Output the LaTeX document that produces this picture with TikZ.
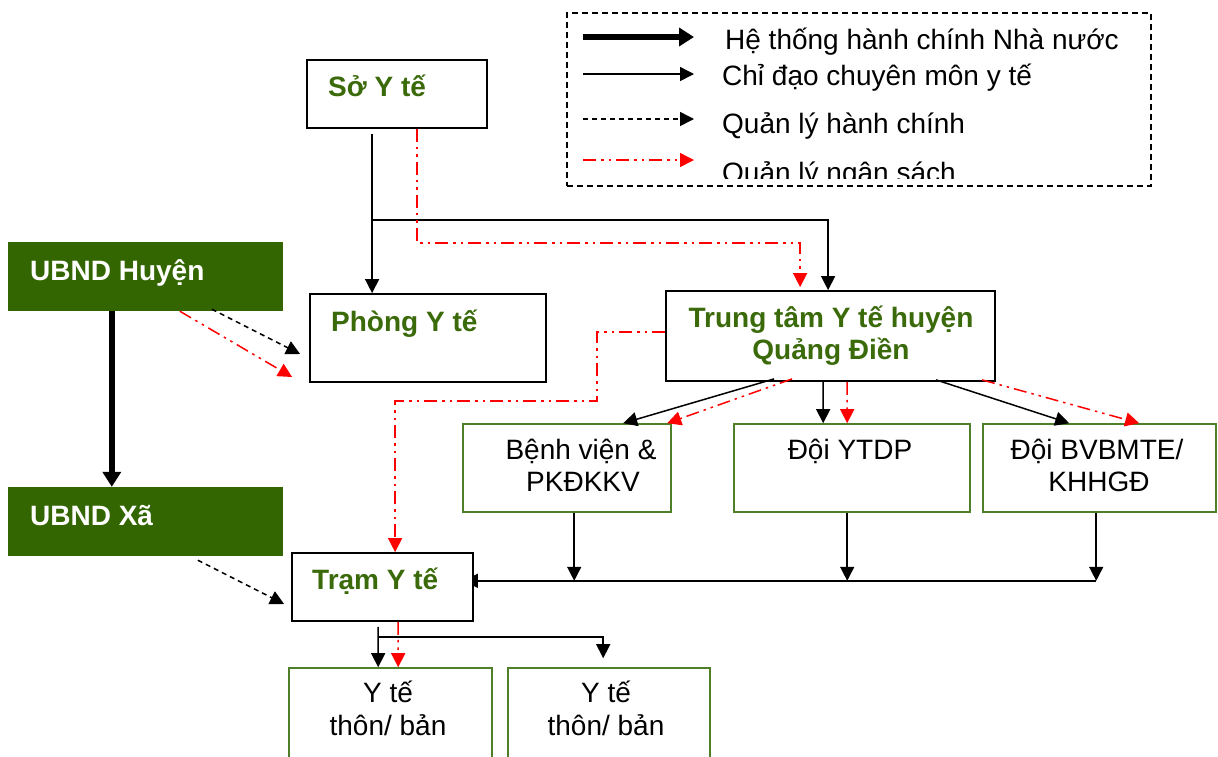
\documentclass[tikz,border=0pt]{standalone}
\usepackage{fontspec}
\setmainfont{Liberation Sans}
\usetikzlibrary{arrows.meta,calc,fit,backgrounds}
\definecolor{dgreen}{HTML}{336600}
\definecolor{tgreen}{HTML}{3A6A0A}
\definecolor{bgreen}{HTML}{4F7F28}
\tikzset{
 obox/.style={draw=black,line width=1.8pt,inner sep=0pt,fill=white},
 gbox/.style={draw=bgreen,line width=1.6pt,inner sep=0pt},
 fbox/.style={fill=dgreen,draw=none,inner sep=0pt},
 btxt/.style={font=\fontsize{28}{32}\selectfont\bfseries,text=tgreen,anchor=base west,inner sep=0pt},
 bctxt/.style={font=\fontsize{28}{32}\selectfont\bfseries,text=tgreen,anchor=base,inner sep=0pt},
 wtxt/.style={font=\fontsize{28}{32}\selectfont\bfseries,text=white,anchor=base west,inner sep=0pt},
 ntxt/.style={font=\fontsize{28}{32}\selectfont,anchor=base,inner sep=0pt},
 ltxt/.style={font=\fontsize{28}{32}\selectfont,anchor=base west,inner sep=0pt},
 con/.style={line width=1.5pt,-{Triangle[length=14pt,width=14pt]}},
 hcon/.style={line width=6pt,-{Triangle[length=15pt,width=18pt]}},
 dcon/.style={con,dash pattern=on 5pt off 4pt},
 rcon/.style={con,red,dash pattern=on 13pt off 5pt on 2.5pt off 5pt on 2.5pt off 5pt},
}
\begin{document}
\begin{tikzpicture}[x=1pt,y=-1pt]
\useasboundingbox (0,0) rectangle (1218,756);
% legend
\node[draw,line width=1.5pt,dash pattern=on 6pt off 4pt,inner sep=0pt,fit={(567,13) (1151,186)}] (leg) {};
\coordinate (la1) at (583,37); \coordinate (lb1) at (694,37);
\coordinate (la2) at (583,74); \coordinate (lb2) at (694,74);
\coordinate (la3) at (583,119); \coordinate (lb3) at (694,119);
\coordinate (la4) at (583,160); \coordinate (lb4) at (694,160);
\draw[hcon] (la1) -- (lb1);
\draw[con] (la2) -- (lb2);
\draw[dcon] (la3) -- (lb3);
\draw[rcon] (la4) -- (lb4);
\node[ltxt] (l1) at (725,49) {Hệ thống hành chính Nhà nước};
\node[ltxt] (l2) at (722,85) {Chỉ đạo chuyên môn y tế};
\node[ltxt] (l3) at (722,133) {Quản lý hành chính};
\begin{scope}
\clip (567,13) rectangle (1151,178);
\node[ltxt] (l4) at (722,182) {Quản lý ngân sách};
\end{scope}
% boxes
\node[obox,fit={(307,60) (487,128)}] (so) {};
\node[btxt] (sot) at (328,96) {Sở Y tế};
\node[fbox,fit={(8,242) (283,311)}] (ubh) {};
\node[wtxt] (ubht) at (30,280) {UBND Huyện};
\node[obox,fit={(310,294) (546,382)}] (phong) {};
\node[btxt] (phongt) at (331,331) {Phòng Y tế};
\node[obox,fit={(666,291) (995,381)}] (tt) {};
\node[bctxt] (tt1) at (831,327) {Trung tâm Y tế huyện};
\node[bctxt] (tt2) at (831,359) {Quảng Điền};
\node[gbox,fit={(463,424) (671,512)}] (bv) {};
\node[ntxt] (bv1) at (581,459) {Bệnh viện \&};
\node[ntxt] (bv2) at (583,491) {PKĐKKV};
\node[gbox,fit={(734,424) (970,512)}] (yt) {};
\node[ntxt] (ytt) at (850,459) {Đội YTDP};
\node[gbox,fit={(983,424) (1216,512)}] (bb) {};
\node[ntxt] (bb1) at (1097,459) {Đội BVBMTE/};
\node[ntxt] (bb2) at (1099,491) {KHHGĐ};
\node[fbox,fit={(8,487) (283,556)}] (ubx) {};
\node[wtxt] (ubxt) at (30,525) {UBND Xã};
\node[obox,fit={(292,553) (473,621)}] (tram) {};
\node[btxt] (tramt) at (312,589) {Trạm Y tế};
\node[gbox,fit={(289,668) (492,775)}] (yb1) {};
\node[ntxt] (yb1a) at (388,702) {Y tế};
\node[ntxt] (yb1b) at (388,735) {thôn/ bản};
\node[gbox,fit={(508,668) (710,775)}] (yb2) {};
\node[ntxt] (yb2a) at (606,702) {Y tế};
\node[ntxt] (yb2b) at (606,735) {thôn/ bản};
% So Y te connectors
\draw[con] ($(so.south west)+(66,5)$) -- ($(phong.north west)+(63,0)$);
\draw[con] ($(so.south west)+(66,91)$) -| ($(tt.north west)+(163,0)$);
\draw[rcon,shorten >=3pt] ($(so.south west)+(111,0)$) -- ++(0,114) -| ($(tt.north west)+(135,0)$);
% UBND Huyen
\draw[hcon] ($(ubh.south west)+(104,0)$) -- ($(ubx.north west)+(104,0)$);
\draw[dcon] ($(ubh.south west)+(204,-2)$) -- ($(phong.west)+(-9,16)$);
\draw[rcon] ($(ubh.south west)+(172,0)$) -- ($(phong.west)+(-17,39)$);
% Trung tam connectors
\draw[rcon] ($(tt.west)+(0,-4)$) -- ++(-68,0) -- ++(0,69) -| ($(tram.north west)+(104,0)$);
\draw[con] ($(tt.south west)+(109,-3)$) -- ($(bv.north west)+(161,0)$);
\draw[rcon] ($(tt.south west)+(127,-3)$) -- ($(bv.north west)+(205,0)$);
\draw[con] ($(tt.south west)+(158,0)$) -- ($(yt.north west)+(90,0)$);
\draw[rcon] ($(tt.south west)+(182,0)$) -- ($(yt.north west)+(114,0)$);
\draw[con] ($(tt.south west)+(271,-2)$) -- ($(bb.north west)+(87,0)$);
\draw[rcon] ($(tt.south west)+(317,-2)$) -- ($(bb.north west)+(157,0)$);
% children to Tram
\coordinate (hb) at ($(bb.south west)+(114,68)$);
\draw[con] ($(bv.south west)+(112,0)$) -- ($(bv.south west)+(112,68)$);
\draw[con] ($(yt.south west)+(114,0)$) -- ($(yt.south west)+(114,68)$);
\draw[con] ($(bb.south west)+(114,0)$) -- (hb);
\begin{scope}[on background layer]
\draw[con] (hb) -- ($(tram.east |- hb)+(-10,0)$);
\end{scope}
% UBND Xa
\draw[dcon] ($(ubx.south west)+(190,4)$) -- ($(tram.west)+(-7,17)$);
% Tram to Y te thon
\draw[con] ($(tram.south west)+(87,5)$) -- ($(yb1.north west)+(90,0)$);
\draw[con] ($(tram.south west)+(87,15)$) -| ($(yb2.north west)+(96,-9)$);
\draw[rcon] ($(tram.south west)+(107,0)$) -- ($(yb1.north west)+(110,0)$);
\end{tikzpicture}
\end{document}
